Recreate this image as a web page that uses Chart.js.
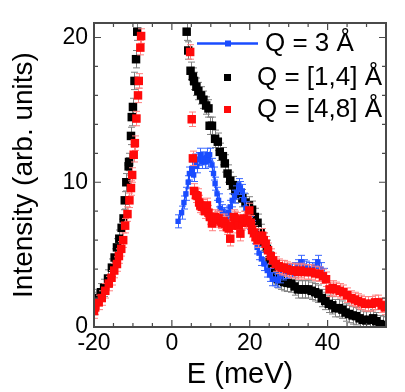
<!DOCTYPE html>
<html><head><meta charset="utf-8">
<script src="https://cdn.jsdelivr.net/npm/chart.js@4.4.1/dist/chart.umd.min.js"></script>
<style>html,body{margin:0;padding:0;background:#fff}</style>
</head><body>
<canvas id="c" width="405" height="392"></canvas>
<script>
// ---- data (E in meV, intensity in arb. units) ----
const xTicks = [-20, 0, 20, 40];
const yTicks = [0, 10, 20];
const xRange = [-20, 55];
const yRange = [0, 21];

const labelBlue = 'Q = 3 Å';
const labelBlack = 'Q = [1,4] Å';
const labelRed = 'Q = [4,8] Å';

const blueData = [
  [1.6,7.3],[2.5,7.9],[3.1,8.6],[3.6,9.2],[4.2,10.0],[4.5,10.6],[5.1,10.95],[5.6,10.5],[6.0,11.5],[6.4,11.1],
  [6.9,11.6],[7.3,11.9],[7.7,11.4],[8.1,11.65],[8.6,11.4],[9.0,11.9],[9.4,11.5],[9.7,11.9],[10.3,11.2],[10.7,10.6],
  [11.1,9.9],[11.6,9.2],[12.0,8.75],[12.4,8.2],[12.9,8.0],[13.3,7.8],[13.7,7.7],[14.2,7.4],[14.6,7.9],[15.0,8.3],
  [15.5,8.75],[16.1,9.0],[16.6,9.3],[17.2,9.8],[17.6,9.6],[18.1,9.4],[18.5,8.8],[19.0,8.2],[19.4,7.6],[20.0,7.2],
  [20.6,6.9],[21.3,6.2],[21.9,5.5],[22.4,5.1],[23.0,4.7],[23.7,4.35],[24.5,3.9],[25.1,3.6],[25.8,3.3],[26.5,3.3],
  [27.1,3.2],[27.8,3.5],[28.5,3.7],[29.3,3.8],[30.0,3.9],[30.8,3.9],[31.6,4.0],[32.4,4.2],[33.2,4.5],[34.0,4.2],
  [34.5,4.1],[35.3,4.0],[36.0,4.0],[36.8,4.2],[37.5,4.5],[38.3,4.0],[39.1,3.6]
];
const blackData = [
  [-19.9,1.8],[-19.4,2.0],[-18.2,2.4],[-17.4,2.7],[-16.4,3.35],[-15.4,4.1],[-14.7,4.8],[-14.1,5.5],[-13.5,6.1],
  [-12.9,6.85],[-12.4,7.5],[-12.1,8.75],[-11.7,10.0],[-11.1,11.1],[-11.0,11.4],[-10.5,13.2],[-10.3,14.5],
  [-10.0,15.2],[-9.6,17.0],[-9.2,18.5],[-8.9,20.4],
  [3.8,20.4],[4.2,19.1],[4.8,17.7],[5.4,17.3],[5.7,17.0],[6.3,16.6],[6.8,16.3],[7.5,16.0],[8.1,15.7],[8.8,15.3],
  [9.4,15.1],[9.7,13.9],[10.3,13.9],[11.1,13.0],[11.8,12.8],[12.3,12.1],[13.1,11.8],[13.6,11.3],[14.3,10.6],
  [15.0,10.1],[15.7,9.8],[16.3,9.4],[17.2,9.2],[18.1,8.9],[18.9,8.6],[19.8,8.4],[20.6,8.1],[21.3,7.6],[22.0,7.2],
  [22.8,6.5],[23.6,5.9],[24.4,5.4],[25.1,4.6],[25.8,4.0],[26.5,3.5],[27.2,3.3],[28.0,3.2],[28.8,3.1],[29.7,3.05],
  [30.6,3.0],[31.5,2.8],[32.4,2.6],[33.3,2.6],[34.1,2.6],[35.0,2.6],[35.9,2.5],[36.8,2.4],[37.6,2.3],[38.5,2.0],
  [39.4,1.8],[40.3,1.6],[41.2,1.5],[42.0,1.3],[42.9,1.3],[43.8,1.2],[44.6,1.0],[45.5,0.9],[46.4,0.8],[47.3,0.75],
  [48.2,0.6],[49.0,0.5],[49.9,0.45],[50.8,0.5],[51.7,0.6],[52.5,0.4],[53.4,0.2],[54.3,0.15],[55.0,0.1]
];
const redData = [
  [-20.0,1.1],[-19.7,1.35],[-18.8,1.7],[-18.0,2.0],[-17.1,2.5],[-16.2,3.0],[-15.5,3.4],[-14.8,3.9],[-14.1,4.35],
  [-13.6,4.9],[-13.0,5.4],[-12.5,6.0],[-12.0,7.0],[-11.4,7.8],[-10.9,8.75],[-10.5,9.6],[-10.2,10.5],[-9.8,11.9],
  [-9.5,12.7],[-9.1,14.4],[-8.7,16.0],[-8.5,17.0],[-8.1,19.3],[-7.9,20.1],
  [4.7,19.0],[5.1,14.35],[5.4,11.65],[5.7,9.4],[6.2,9.1],[6.6,9.05],[7.0,8.6],[7.3,8.4],[7.7,8.3],[8.1,8.3],
  [8.5,8.0],[9.0,8.4],[9.4,7.9],[9.8,7.6],[10.3,7.15],[10.7,7.4],[11.1,7.6],[11.6,7.5],[12.0,7.5],[12.5,7.3],
  [12.9,7.15],[13.3,7.3],[13.7,7.15],[14.2,6.9],[14.6,6.8],[15.0,6.1],[15.4,7.0],[15.9,7.6],[16.3,7.5],[16.8,7.4],
  [17.2,7.0],[17.6,6.45],[18.1,7.2],[18.5,7.5],[19.0,7.3],[19.4,7.4],[19.9,8.05],[20.3,7.2],[20.6,6.7],[21.1,6.5],
  [21.5,6.2],[22.0,6.0],[22.5,6.3],[23.2,6.3],[23.6,6.0],[24.1,5.75],[24.7,5.3],[25.4,4.9],[26.0,4.6],[26.7,4.35],
  [27.5,4.2],[28.2,4.1],[28.8,4.1],[29.6,4.0],[30.6,3.9],[31.4,3.9],[32.3,3.8],[33.1,3.9],[34.0,3.8],[34.9,3.8],
  [35.8,3.8],[36.8,3.7],[37.9,3.65],[38.8,3.5],[39.6,3.3],[40.5,2.6],[41.3,2.7],[42.2,2.6],[43.1,2.5],[44.0,2.4],
  [45.0,2.2],[46.1,2.0],[47.0,1.9],[47.8,1.8],[48.7,1.7],[49.6,1.6],[50.5,1.6],[51.3,1.6],[52.2,1.7],[53.0,1.7],
  [53.9,1.5],[54.7,1.35]
];
// error bar half-heights (arb. units)
const blueErr = 0.45;
const blackErr = 0.6;
const redErr = 0.5;

// ---- styling ----
const C_BLUE = '#1a4cff', C_BLACK = '#000000', C_RED = '#ff0a0a';
const E_BLUE = '#3a68ff', E_BLACK = '#808080', E_RED = '#ff8080';
const AXIS = '#4a4a4a';
const FONT = "'Liberation Sans', Arial, sans-serif";

const toPts = arr => arr.map(p => ({x: p[0], y: p[1]}));

const errorBars = {
  id: 'errorBars',
  beforeDatasetDraw(chart, args) {
    const ds = chart.data.datasets[args.index];
    if (!ds.errColor) return;
    const {ctx, chartArea, scales} = chart;
    ctx.save();
    ctx.beginPath();
    ctx.rect(chartArea.left, chartArea.top, chartArea.right - chartArea.left, chartArea.bottom - chartArea.top);
    ctx.clip();
    ctx.strokeStyle = ds.errColor;
    ctx.lineWidth = 1;
    ctx.beginPath();
    ds.data.forEach(p => {
      const x = Math.round(scales.x.getPixelForValue(p.x)) + 0.5;
      const y1 = scales.y.getPixelForValue(p.y - ds.err);
      const y2 = scales.y.getPixelForValue(p.y + ds.err);
      ctx.moveTo(x, y1); ctx.lineTo(x, y2);
      ctx.moveTo(x - 3.5, y1); ctx.lineTo(x + 3.5, y1);
      ctx.moveTo(x - 3.5, y2); ctx.lineTo(x + 3.5, y2);
    });
    ctx.stroke();
    ctx.restore();
  }
};

const frame = {
  id: 'frame',
  afterDraw(chart) {
    const {ctx, chartArea: a, scales} = chart;
    ctx.save();
    ctx.strokeStyle = AXIS;
    ctx.lineWidth = 2;
    ctx.strokeRect(a.left, a.top, a.right - a.left, a.bottom - a.top);
    ctx.lineWidth = 1.2;
    ctx.beginPath();
    for (let v = xRange[0]; v <= xRange[1]; v += 5) {
      const x = scales.x.getPixelForValue(v);
      const len = (v % 20 === 0) ? 7 : 4;
      ctx.moveTo(x, a.bottom); ctx.lineTo(x, a.bottom - len);
      ctx.moveTo(x, a.top); ctx.lineTo(x, a.top + len);
    }
    for (let v = yRange[0]; v <= yRange[1]; v += 2) {
      const y = scales.y.getPixelForValue(v);
      const len = (v % 10 === 0) ? 7 : 4;
      ctx.moveTo(a.left, y); ctx.lineTo(a.left + len, y);
      ctx.moveTo(a.right, y); ctx.lineTo(a.right - len, y);
    }
    ctx.stroke();

    // legend inside the plot
    const lx = a.left, ly = a.top;
    ctx.font = '26px ' + FONT;
    ctx.fillStyle = '#000';
    ctx.textBaseline = 'middle';
    ctx.textAlign = 'left';
    ctx.strokeStyle = C_BLUE; ctx.lineWidth = 2.5;
    ctx.beginPath(); ctx.moveTo(lx + 103, ly + 20.5); ctx.lineTo(lx + 164, ly + 20.5); ctx.stroke();
    ctx.fillStyle = C_BLUE; ctx.fillRect(lx + 131, ly + 17.5, 6, 6);
    ctx.fillStyle = '#000';
    ctx.fillText(labelBlue, lx + 171, ly + 21);
    ctx.fillStyle = C_BLACK; ctx.fillRect(lx + 130, ly + 51, 7, 7);
    ctx.fillStyle = '#000';
    ctx.fillText(labelBlack, lx + 163, ly + 55);
    ctx.fillStyle = C_RED; ctx.fillRect(lx + 130, ly + 83, 7, 7);
    ctx.fillStyle = '#000';
    ctx.fillText(labelRed, lx + 163, ly + 87);
    ctx.restore();
  }
};

Chart.defaults.font.family = FONT;
Chart.defaults.color = '#000';

new Chart(document.getElementById('c'), {
  type: 'scatter',
  data: {
    datasets: [
      { label: labelRed, data: toPts(redData), err: redErr, errColor: E_RED,
        pointStyle: 'rect', pointRadius: 6, pointBorderWidth: 0,
        backgroundColor: C_RED, borderColor: C_RED, showLine: false, order: 0 },
      { label: labelBlue, data: toPts(blueData), err: blueErr, errColor: E_BLUE,
        pointStyle: 'rect', pointRadius: 3.8, pointBorderWidth: 0,
        backgroundColor: C_BLUE, borderColor: C_BLUE, borderWidth: 1.8, showLine: true, order: 1 },
      { label: labelBlack, data: toPts(blackData), err: blackErr, errColor: E_BLACK,
        pointStyle: 'rect', pointRadius: 6, pointBorderWidth: 0,
        backgroundColor: C_BLACK, borderColor: C_BLACK, showLine: false, order: 2 }
    ]
  },
  options: {
    responsive: false,
    animation: false,
    devicePixelRatio: 1,
    layout: { padding: { top: 23, right: 19, left: 0, bottom: 0 } },
    plugins: { legend: { display: false }, tooltip: { enabled: false } },
    scales: {
      x: {
        type: 'linear', min: xRange[0], max: xRange[1],
        afterBuildTicks: s => { s.ticks = xTicks.map(v => ({value: v})); },
        afterFit: s => { s.height = 65; },
        grid: { display: false, drawTicks: false },
        border: { display: false },
        ticks: { padding: 5, font: { size: 23, lineHeight: 1 }, color: '#000', maxRotation: 0 },
        title: { display: true, text: 'E (meV)', font: { size: 29, lineHeight: 1 }, color: '#000', padding: { top: 0, bottom: 3 } }
      },
      y: {
        type: 'linear', min: yRange[0], max: yRange[1],
        afterBuildTicks: s => { s.ticks = yTicks.map(v => ({value: v})); },
        afterFit: s => { s.width = 94; },
        grid: { display: false, drawTicks: false },
        border: { display: false },
        ticks: { padding: 6, font: { size: 23, lineHeight: 1 }, color: '#000' },
        title: { display: true, text: 'Intensity (arb. units)', font: { size: 28, lineHeight: 1 }, color: '#000', padding: { top: 10, bottom: 0 } }
      }
    }
  },
  plugins: [errorBars, frame]
});
</script>
</body></html>
